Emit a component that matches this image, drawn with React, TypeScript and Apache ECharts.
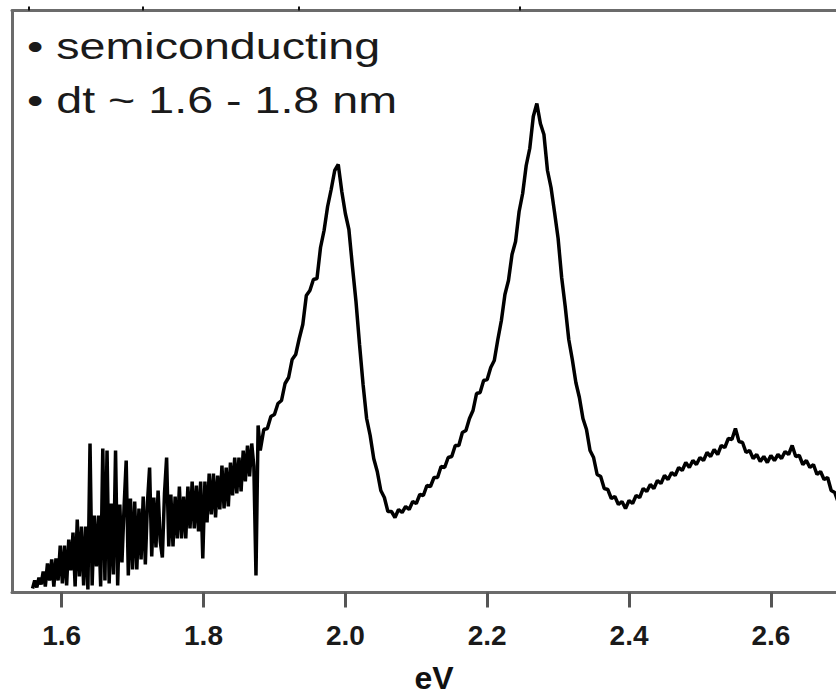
import React, { useEffect, useRef } from "react";
import * as echarts from "echarts";

// Absorption spectrum, arbitrary units (0 = bottom of frame)
// Low-energy, noisy part of the spectrum
const noisyStartEV = 1.559;
const noisyStepEV = 0.003;
const noisyIntensity = [
  4, 12, 5, 15, 8, 21, 6, 29, 12, 33,
  6, 34, 12, 47, 9, 47, 7, 53, 22, 60,
  6, 73, 16, 66, 7, 66, 3, 149, 7, 77,
  26, 77, 6, 144, 12, 142, 9, 89, 18, 142,
  7, 88, 30, 85, 132, 17, 94, 23, 91, 23,
  84, 33, 96, 28, 90, 125, 36, 95, 45, 102,
  51, 35, 99, 135, 46, 98, 46, 96, 54, 106,
  54, 96, 54, 106, 64, 111, 64, 107, 61, 111,
  34, 111, 70, 119, 78, 119, 75, 117, 83, 127,
  84, 125, 86, 130, 97, 135, 99, 135, 101, 142,
  111, 147, 116, 149, 126, 17, 167, 142,
];

// Main part of the spectrum (two strong peaks and the broad band beyond)
const mainStartEV = 1.885;
const mainStepEV = 0.005;
const mainIntensity = [
  163, 164, 176, 178, 189, 192, 209, 215, 233, 238,
  254, 268, 297, 302, 313, 314, 345, 362, 386, 403,
  422, 428, 401, 379, 363, 326, 291, 248, 208, 174,
  157, 134, 121, 102, 95, 81, 81, 75, 83, 80,
  86, 83, 91, 89, 98, 97, 107, 106, 115, 115,
  126, 125, 135, 136, 147, 147, 160, 162, 174, 182,
  199, 200, 212, 213, 225, 232, 253, 272, 298, 312,
  338, 351, 381, 399, 427, 444, 476, 489, 469, 458,
  422, 405, 380, 354, 315, 286, 253, 233, 210, 195,
  174, 163, 142, 135, 118, 116, 104, 103, 94, 96,
  88, 91, 84, 92, 89, 97, 95, 104, 101, 108,
  104, 112, 109, 117, 113, 120, 117, 125, 122, 130,
  125, 132, 128, 135, 132, 140, 136, 143, 138, 147,
  145, 154, 153, 164, 151, 150, 140, 142, 134, 138,
  131, 136, 130, 137, 132, 138, 134, 141, 138, 147,
  136, 137, 128, 132, 125, 128, 118, 121, 113, 115,
  102, 100, 90,
];

const xTickValues = [1.6, 1.8, 2.0, 2.2, 2.4, 2.6];
const topTickValues = [1.5535, 1.714, 1.934, 2.246];
const annotationLines = ["\u2022 semiconducting", "\u2022 dt ~ 1.6 - 1.8 nm"];
const xAxisName = "eV";

const FONT = "'Liberation Sans', Arial, Helvetica, sans-serif";

export default function App() {
  const ref = useRef<HTMLDivElement>(null);

  useEffect(() => {
    if (!ref.current) return;
    const chart = echarts.init(ref.current, null, { renderer: "svg" });

    const data: number[][] = [
      ...noisyIntensity.map((v, i) => [
        Number((noisyStartEV + i * noisyStepEV).toFixed(4)),
        v,
      ]),
      ...mainIntensity.map((v, i) => [
        Number((mainStartEV + i * mainStepEV).toFixed(4)),
        v,
      ]),
    ];

    const axisLineStyle = { color: "#6b6b6b", width: 3 };

    chart.setOption({
      animation: false,
      backgroundColor: "#ffffff",
      grid: {
        left: 12,
        top: 10.5,
        width: 844,
        height: 582,
        containLabel: false,
        outerBoundsMode: "none",
      },
      xAxis: [
        {
          type: "value",
          position: "bottom",
          min: 1.53,
          max: 2.72,
          splitLine: { show: false },
          axisLine: { show: true, onZero: false, lineStyle: axisLineStyle },
          axisTick: {
            show: true,
            customValues: xTickValues,
            length: 15,
            lineStyle: { color: "#555555", width: 3 },
          },
          axisLabel: {
            show: true,
            customValues: xTickValues,
            formatter: (v: number) => v.toFixed(1),
            margin: 29,
            fontSize: 28,
            fontWeight: "bold",
            color: "#1a1a1a",
            fontFamily: FONT,
          },
          name: xAxisName,
          nameLocation: "middle",
          nameGap: 69,
          nameTextStyle: {
            fontSize: 32,
            fontWeight: "bold",
            color: "#111111",
            fontFamily: FONT,
          },
        },
        {
          type: "value",
          position: "top",
          min: 1.53,
          max: 2.72,
          splitLine: { show: false },
          axisLine: { show: true, onZero: false, lineStyle: axisLineStyle },
          axisTick: {
            show: true,
            customValues: topTickValues,
            length: 4,
            lineStyle: { color: "#111111", width: 2 },
          },
          axisLabel: { show: false },
        },
      ],
      yAxis: {
        type: "value",
        min: 0,
        max: 582,
        splitLine: { show: false },
        axisLine: { show: true, onZero: false, lineStyle: axisLineStyle },
        axisTick: { show: false },
        axisLabel: { show: false },
      },
      series: [
        {
          type: "line",
          data,
          xAxisIndex: 0,
          showSymbol: false,
          symbol: "none",
          smooth: false,
          clip: true,
          lineStyle: { color: "#000000", width: 3.5, join: "bevel" },
          emphasis: { disabled: true },
        },
      ],
      graphic: annotationLines.map((t, i) => ({
        type: "text",
        x: 27,
        y: 46 + i * 54,
        scaleX: 1.26,
        silent: true,
        style: {
          text: t,
          fontSize: 37,
          fontFamily: FONT,
          fill: "#1a1a1a",
          verticalAlign: "middle",
          align: "left",
        },
      })),
    });

    return () => chart.dispose();
  }, []);

  return (
    <div
      ref={ref}
      style={{
        position: "fixed",
        left: 0,
        top: 0,
        width: 836,
        height: 695,
        background: "#ffffff",
      }}
    />
  );
}
